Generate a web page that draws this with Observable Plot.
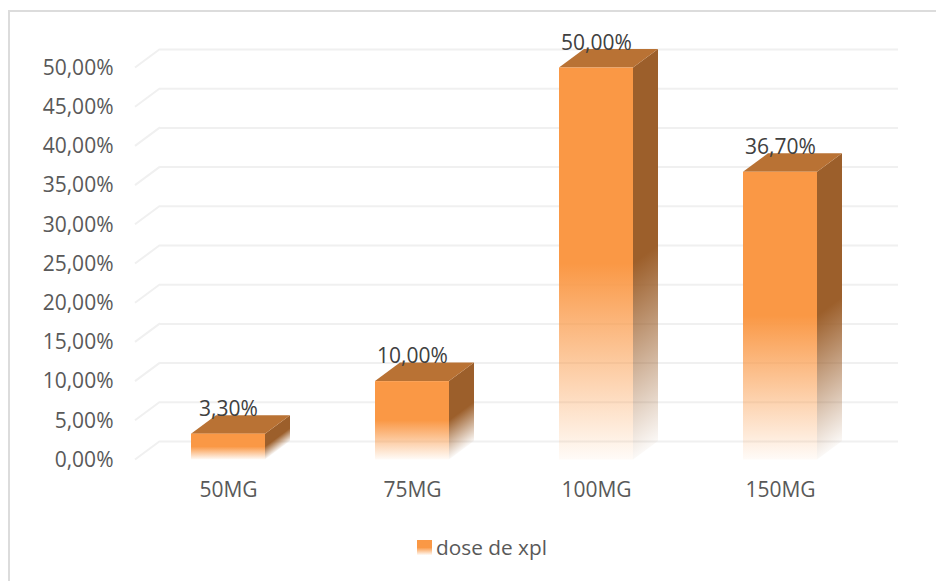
<!DOCTYPE html>
<html><head><meta charset="utf-8">
<script src="https://cdn.jsdelivr.net/npm/d3@7"></script>
<script src="https://cdn.jsdelivr.net/npm/@observablehq/plot@0.6"></script>
<style>
html,body{margin:0;padding:0;background:#fff;}
#wrap{position:relative;width:936px;height:581px;overflow:hidden;font-family:"Open Sans",sans-serif;}
#frame{position:absolute;left:8px;top:10px;width:940px;height:580px;border-left:2px solid #dcdcdc;border-top:2px solid #dcdcdc;box-sizing:border-box;}
#chart{position:absolute;left:0;top:0;}
#legend{position:absolute;left:417px;top:533px;display:flex;align-items:center;gap:4px;font-size:20.8px;color:#595959;}
#swatch{width:15px;height:15px;background:linear-gradient(#fa9845 0%,#fa9845 50%,rgba(250,152,69,.05) 100%);}
</style></head>
<body><div id="wrap"><div id="frame"></div><div id="chart"></div>
<div id="legend"><span id="swatch"></span><span id="legendText"></span></div></div>
<script>
const categories = ["50MG","75MG","100MG","150MG"];
const values = [3.3,10,50,36.7];
const yTicks = [0,5,10,15,20,25,30,35,40,45,50];
const seriesName = "dose de xpl";
const frontColor = "#fa9845", topColor = "#b97234", sideColor = "#9c5f2b", gridColor = "#f0f0f0";
const depthX = 25, depthY = 18.5;
const rows = categories.map((c,i)=>({c,v:values[i]}));
const pct = v => v.toFixed(2).replace(".",",")+"%";
document.getElementById("legendText").textContent = seriesName;

function diagonals(index,{y},vals,dims){
  const g = d3.create("svg:g").attr("stroke",gridColor).attr("stroke-width",2).attr("fill","none");
  for(const t of yTicks){
    g.append("path").attr("d",`M${dims.marginLeft},${y(t)}l${depthX},${-depthY}`);
  }
  return g.node();
}
function bars3d(index,{x,y}){
  const root = d3.create("svg:g");
  const defs = root.append("defs");
  const bw = x.bandwidth(), y0 = y(0);
  const n = [depthY,depthX], nl = Math.hypot(...n);
  rows.forEach((r,i)=>{
    const xl = x(r.c), xr = xl+bw, yt = y(r.v), h = y0-yt;
    const fid = "front"+i, sid = "side"+i;
    const stops = (gr,col)=>{
      gr.append("stop").attr("offset","0").attr("stop-color",col);
      gr.append("stop").attr("offset","0.5").attr("stop-color",col);
      gr.append("stop").attr("offset","1").attr("stop-color",col).attr("stop-opacity",0.04);
    };
    stops(defs.append("linearGradient").attr("id",fid).attr("x1",0).attr("y1",0).attr("x2",0).attr("y2",1),frontColor);
    const L = h*n[1]/nl, vx = n[0]/nl*L, vy = n[1]/nl*L;
    stops(defs.append("linearGradient").attr("id",sid).attr("gradientUnits","userSpaceOnUse")
      .attr("x1",xr-vx).attr("y1",y0-vy).attr("x2",xr).attr("y2",y0),sideColor);
    root.append("path").attr("fill",`url(#${sid})`)
      .attr("d",`M${xr},${yt}l${depthX},${-depthY}V${y0-depthY}L${xr},${y0}Z`);
    root.append("path").attr("fill",topColor)
      .attr("d",`M${xl},${yt}l${depthX},${-depthY}H${xr+depthX}L${xr},${yt}Z`);
    root.append("rect").attr("x",xl).attr("y",yt).attr("width",bw).attr("height",h).attr("fill",`url(#${fid})`);
  });
  return root.node();
}

const plot = Plot.plot({
  width:936, height:510,
  marginLeft:135, marginRight:63, marginTop:67.5, marginBottom:50.5,
  style:{background:"transparent",fontFamily:'"Open Sans",sans-serif',fontSize:"21px",color:"#595959",overflow:"visible"},
  x:{type:"band",domain:categories,paddingInner:0.6,paddingOuter:0.3,align:0.5,label:null,axis:null},
  y:{domain:[0,50],label:null,axis:null},
  marks:[
    Plot.ruleY(yTicks,{dx:depthX,dy:-depthY,stroke:gridColor,strokeWidth:2}),
    diagonals,
    bars3d,
    Plot.axisY(yTicks,{anchor:"left",tickSize:0,tickPadding:22,label:null,tickFormat:pct,fill:"#595959",fontSize:21}),
    Plot.axisX(categories,{anchor:"bottom",tickSize:0,tickPadding:22,label:null,fill:"#595959",fontSize:21}),
    Plot.text(rows,{x:"c",y:"v",text:d=>pct(d.v),dy:-25,fill:"#404040",fontSize:21})
  ]
});
document.getElementById("chart").appendChild(plot);
</script></body></html>
